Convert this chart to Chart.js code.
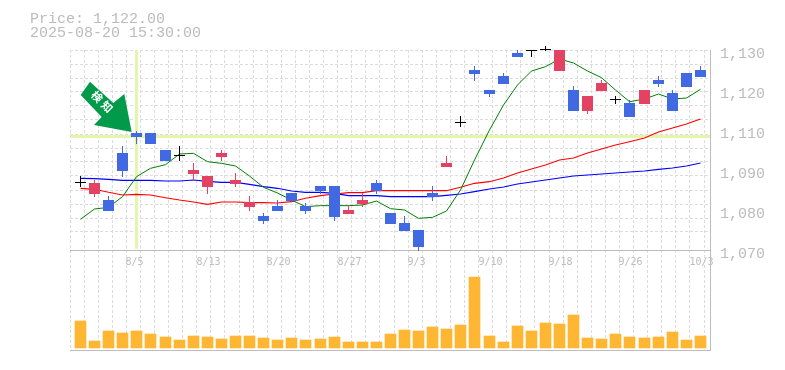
<!DOCTYPE html>
<html><head><meta charset="utf-8">
<script src="https://cdn.jsdelivr.net/npm/chart.js@4"></script>
<style>html,body{margin:0;padding:0;background:#fff}canvas{display:block}</style>
</head><body>
<canvas id="c" width="785" height="370"></canvas>
<script>
const priceLine = "Price: 1,122.00";
const timeLine = "2025-08-20 15:30:00";
const xTickIndex = [4,9,14,19,24,29,34,39,44];
const xTickLabels = ["8/5","8/13","8/20","8/27","9/3","9/10","9/18","9/26","10/3"];
const yTickValues = [1130,1118,1106,1094,1082,1070];
const yTickLabels = ["1,130","1,120","1,110","1,090","1,080","1,070"];
const open = [1090,1086.8,1084.9,1099.1,1105,1105.1,1100,1098.2,1092.8,1088.9,1097.9,1089.8,1082.9,1080.2,1083.2,1087.1,1083.2,1089.2,1089.2,1080.8,1083.8,1090.1,1081.1,1078.1,1076,1087.1,1094.9,1108.1,1124,1118,1122.2,1129.1,1129.8,1131.2,1123.7,1118,1111.7,1117.7,1115,1114.1,1113.8,1121,1117.1,1123.1,1124];
const high = [1092.2,1091,1086.2,1101.2,1105.7,1105.1,1100,1101.2,1096.2,1092.2,1100,1093.1,1086.2,1081.1,1085,1087.1,1084.1,1089.2,1089.2,1083.5,1087.1,1091,1081.1,1080.2,1076,1089.2,1098.2,1110.2,1125.2,1118,1123.1,1130,1129.8,1131.2,1130,1119.2,1116.2,1121,1116.2,1115,1118,1122.2,1118,1123.1,1125.2];
const low = [1089,1086,1081.7,1091.9,1101.8,1101.8,1096.7,1096.7,1090.7,1086.8,1096.7,1088.9,1081.7,1077.8,1081.7,1084.7,1080.8,1086.8,1078.7,1080.8,1082.9,1086.8,1077.8,1075.7,1069.7,1084.7,1094.9,1106.9,1120.7,1115.9,1119.8,1127.9,1127.9,1129.7,1123.7,1111.7,1110.8,1117.7,1113.8,1109.9,1113.8,1118.9,1111.7,1118.9,1121.9];
const close = [1090,1090.1,1081.7,1093.7,1103.9,1101.8,1096.7,1098.2,1094,1092.2,1099.1,1091,1084.4,1078.7,1081.7,1084.7,1081.7,1087.7,1079.9,1082,1085,1087.7,1077.8,1075.7,1070.9,1085.9,1096.1,1108.1,1122.8,1116.8,1119.8,1127.9,1129.8,1131.2,1130,1111.7,1116.2,1120.1,1115,1109.9,1118,1119.8,1111.7,1118.9,1121.9];
const maShort = [1079.2,1082.3,1082.8,1086,1092,1094.5,1095.6,1098.8,1099,1096.5,1096,1095.2,1092.2,1088.8,1087.1,1085,1083,1083.3,1083.3,1083.3,1083.5,1084.7,1082.4,1082,1079.5,1079.8,1081.7,1088,1097,1106,1113.5,1119.5,1123.7,1125,1127.3,1126.1,1123.7,1121.7,1118,1114.5,1115.3,1116.8,1115.3,1115.6,1118.2];
const maMid = [1088.5,1088.2,1087.3,1086.5,1086.7,1086.5,1085.7,1085,1084.4,1083.7,1084.4,1084.4,1084.2,1084.2,1084.1,1084.5,1085.5,1086.3,1086.8,1087.2,1087.2,1087.8,1087.8,1087.8,1087.8,1087.8,1087.8,1088.8,1090,1090.5,1091.6,1093.1,1094.3,1095.5,1097,1097.6,1099.1,1100.3,1101.5,1102.5,1103.6,1105.4,1106.6,1107.8,1109.3];
const maLong = [1091.5,1091.4,1091.2,1090.9,1090.9,1090.9,1090.7,1090.7,1091,1090.6,1090.3,1090.3,1089.7,1089,1088.5,1087.7,1087.3,1087.3,1087,1086.3,1086.3,1086.3,1086,1086,1086,1086,1086.4,1086.8,1087.5,1088.3,1088.9,1089.8,1090.4,1091,1091.6,1092.2,1092.5,1092.8,1093.1,1093.4,1093.7,1094.2,1094.6,1095.2,1096.1];
const volume = [27,7,17,15,17,14,11,8,12,11,9,12,12,10,8,10,8,9,11,6,6,6,14,18,17,21,19,23,71,12,6,22,17,25,24,33,10,9,14,11,10,11,16,8,12];
const signalIndex = 4;
const signalPrice = 1104.05;
const signalLabel = "検知";

const GRAY = "#bcbcbc", GRID = "#dcdcdc", BLUE = "#4169e1", RED = "#e34262", BLACK = "#000000";
const MONO = '"Liberation Mono", monospace';
const X_MIN = -0.745, X_MAX = 44.68, Y_TOP = 1130, Y_BOTTOM = 1040;

class SnapScale extends Chart.LinearScale {
  getPixelForValue(v) {
    const p = super.getPixelForValue(v);
    return this.isHorizontal() ? Math.floor(p) + 0.5 : Math.round(p);
  }
}
SnapScale.id = "snap";
SnapScale.defaults = Chart.LinearScale.defaults;
Chart.register(SnapScale);

const idx = open.map((_, i) => i);
const candleColor = idx.map(i => close[i] > open[i] ? RED : close[i] < open[i] ? BLUE : BLACK);
const gridX = Array.from({length: 46}, (_, i) => i + X_MIN);
const gridY = Array.from({length: 14}, (_, i) => Y_TOP - 4.2 * i);

const overlay = {
  id: "overlay",
  afterDatasetsDraw(chart) {
    const ctx = chart.ctx, sx = chart.scales.x, sy = chart.scales.yGrid;
    ctx.save();
    ctx.fillStyle = GRAY;
    ctx.font = "15px " + MONO;
    ctx.textBaseline = "alphabetic";
    ctx.textAlign = "left";
    ctx.fillText(priceLine, 30, 23);
    ctx.fillText(timeLine, 30, 37);
    const tx = sx.getPixelForValue(signalIndex) - 4.8, ty = sy.getPixelForValue(signalPrice) - 4.5;
    const pts = [[-41.7,-50.3],[-51,-37],[-30,-15],[-37.7,-7],[0,0],[-7.4,-38],[-18.4,-29]];
    ctx.fillStyle = "#009a4a";
    ctx.beginPath();
    pts.forEach((p, i) => i ? ctx.lineTo(tx + p[0], ty + p[1]) : ctx.moveTo(tx + p[0], ty + p[1]));
    ctx.closePath();
    ctx.fill();
    ctx.translate(tx - 29.2, ty - 30);
    ctx.rotate(Math.PI / 4);
    ctx.fillStyle = "#ffffff";
    ctx.font = 'bold 11px "Noto Sans CJK JP"';
    ctx.textAlign = "center";
    ctx.textBaseline = "middle";
    ctx.letterSpacing = "3px";
    ctx.fillText(signalLabel, 1, 0);
    ctx.restore();
  }
};

const lineDs = (data, color, width, order) => ({
  type: "line", data: idx.map(i => ({x: i, y: data[i]})), borderColor: color, borderWidth: width,
  pointRadius: 0, tension: 0, yAxisID: "yGrid", xAxisID: "x", order, clip: false, fill: false
});

new Chart(document.getElementById("c"), {
  data: { datasets: [
    { type: "bar", data: idx.map(i => ({x: i, y: volume[i]})), backgroundColor: "#ffb733", barThickness: 11,
      yAxisID: "yVol", xAxisID: "x", order: 9, grouped: false },
    { type: "line", data: [{x: X_MIN, y: signalPrice}, {x: X_MAX, y: signalPrice}], borderColor: "#e5f5aa", borderWidth: 3,
      pointRadius: 0, yAxisID: "yGrid", xAxisID: "x", order: 8 },
    { type: "line", data: [{x: signalIndex, y: Y_TOP}, {x: signalIndex, y: 1070.4}], borderColor: "#e5f5aa", borderWidth: 3,
      pointRadius: 0, yAxisID: "yGrid", xAxisID: "x", order: 7 },
    lineDs(maLong, "#0000ff", 1.1, 5),
    lineDs(maMid, "#ff0000", 1.1, 4),
    lineDs(maShort, "#008000", 1, 3),
    { type: "bar", data: idx.map(i => ({x: i, y: [low[i], high[i]]})), backgroundColor: candleColor, barThickness: 1,
      yAxisID: "y", xAxisID: "x", order: 2, grouped: false, clip: false, inflateAmount: 0, minBarLength: 1 },
    { type: "bar", data: idx.map(i => ({x: i, y: [Math.min(open[i], close[i]), Math.max(open[i], close[i])]})), backgroundColor: candleColor,
      barThickness: 11, yAxisID: "y", xAxisID: "x", order: 1, grouped: false, clip: false, inflateAmount: 0, minBarLength: 1 }
  ]},
  plugins: [overlay],
  options: {
    responsive: false, animation: false, events: [],
    layout: { padding: { left: 70, top: 50, right: 0, bottom: 20 } },
    plugins: { legend: { display: false }, tooltip: { enabled: false }, title: { display: false } },
    scales: {
      x: { type: "snap", axis: "x", offset: false, min: X_MIN, max: X_MAX, position: { y: 1070 },
        afterBuildTicks: s => { s.ticks = xTickIndex.map(v => ({value: v})); },
        grid: { display: false, drawTicks: false, offset: false },
        border: { display: true, color: GRAY, width: 1 },
        ticks: { autoSkip: false, maxRotation: 0, minRotation: 0, align: "start", labelOffset: -11, padding: 6,
          color: GRAY, font: { family: '"DejaVu Sans Mono", monospace', size: 10 },
          callback: (v, i) => xTickLabels[i] } },
      xGrid: { type: "linear", axis: "x", offset: false, min: X_MIN, max: X_MAX, position: "bottom",
        afterBuildTicks: s => { s.ticks = gridX.map(v => ({value: v})); },
        afterFit: s => { s.height = 0; },
        grid: { display: true, color: GRID, lineWidth: 1, drawTicks: false, offset: false },
        border: { display: true, color: GRAY, width: 1, dash: [3, 2], dashOffset: 0 },
        ticks: { display: false } },
      y: { type: "snap", axis: "y", min: Y_BOTTOM, max: Y_TOP, position: "right",
        afterBuildTicks: s => { s.ticks = yTickValues.map(v => ({value: v})); },
        afterFit: s => { s.width = 75; },
        grid: { display: false, drawTicks: false },
        border: { display: true, color: GRAY, width: 1 },
        ticks: { autoSkip: false, padding: 10, labelOffset: 4, color: GRAY, font: { family: MONO, size: 15 },
          callback: (v, i) => yTickLabels[i] } },
      yGrid: { type: "linear", axis: "y", min: Y_BOTTOM, max: Y_TOP, position: "left",
        afterBuildTicks: s => { s.ticks = gridY.map(v => ({value: v})); },
        afterFit: s => { s.width = 0; },
        grid: { display: true, color: GRID, lineWidth: 1, drawTicks: false },
        border: { display: false, dash: [3, 2] },
        ticks: { display: false } },
      yVol: { type: "linear", axis: "y", min: -2, max: 298, display: false }
    }
  }
});
</script>
</body></html>
